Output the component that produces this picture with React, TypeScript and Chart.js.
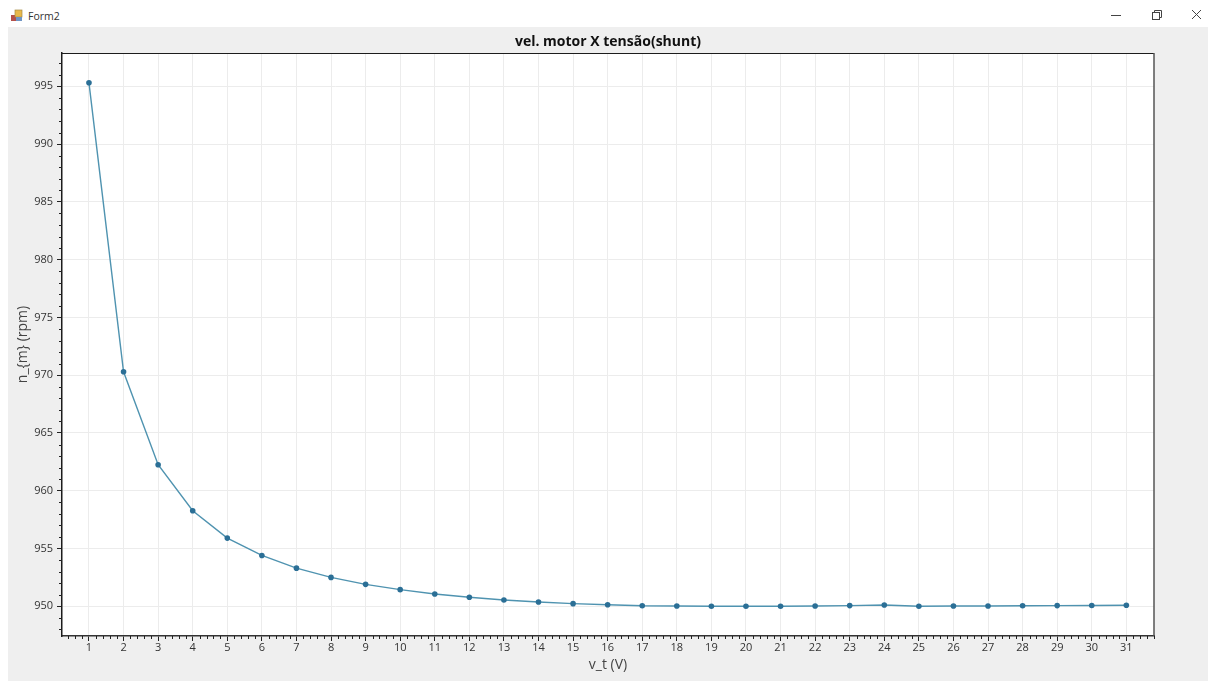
import React, { useEffect, useRef } from "react";
import { Chart, registerables } from "chart.js";

Chart.register(...registerables);

const voltage = [1, 2, 3, 4, 5, 6, 7, 8, 9, 10, 11, 12, 13, 14, 15, 16, 17, 18, 19, 20, 21, 22, 23, 24, 25, 26, 27, 28, 29, 30, 31];
const speed = [
  995.3, 970.3, 962.25, 958.27, 955.9, 954.4, 953.3, 952.5, 951.9, 951.44, 951.06,
  950.78, 950.55, 950.37, 950.23, 950.14, 950.05, 950.03, 950.0, 950.0, 950.0,
  950.03, 950.06, 950.11, 950.0, 950.03, 950.03, 950.05, 950.06, 950.07, 950.09,
];
const chartTitle = "vel. motor X tensão(shunt)";
const xTitle = "v_t (V)";
const yTitle = "n_{m} (rpm)";
const windowTitle = "Form2";
const FONT = '"Open Sans", "Noto Sans", sans-serif';

const frame = {
  id: "frame",
  beforeDraw(chart: any) {
    const { ctx, chartArea: a } = chart;
    ctx.save();
    ctx.fillStyle = "#ffffff";
    ctx.fillRect(a.left, a.top, a.right - a.left, a.bottom - a.top);
    ctx.restore();
  },
  afterDraw(chart: any) {
    const { ctx, chartArea: a, scales } = chart;
    ctx.save();
    ctx.strokeStyle = "#1c1c1c";
    ctx.lineWidth = 1;
    ctx.beginPath();
    ctx.moveTo(a.left, a.top + 0.5);
    ctx.lineTo(a.right, a.top + 0.5);
    ctx.stroke();
    ctx.strokeStyle = "#555555";
    ctx.lineWidth = 1.5;
    ctx.beginPath();
    ctx.moveTo(a.right, a.top);
    ctx.lineTo(a.right, a.bottom);
    ctx.stroke();

    ctx.strokeStyle = "#222222";
    ctx.lineWidth = 1;
    ctx.beginPath();
    for (let v = Math.ceil(scales.x.min * 5); v <= scales.x.max * 5; v++) {
      if (v % 5 === 0) continue;
      const px = Math.round(scales.x.getPixelForValue(v / 5)) + 0.5;
      ctx.moveTo(px, a.bottom);
      ctx.lineTo(px, a.bottom + 3);
    }
    for (let v = Math.ceil(scales.y.min); v <= scales.y.max; v++) {
      if (v % 5 === 0) continue;
      const py = Math.round(scales.y.getPixelForValue(v)) + 0.5;
      ctx.moveTo(a.left, py);
      ctx.lineTo(a.left - 3, py);
    }
    ctx.stroke();
    ctx.restore();
  },
};

export default function App() {
  const ref = useRef<HTMLCanvasElement>(null);

  useEffect(() => {
    const chart = new Chart(ref.current as HTMLCanvasElement, {
      type: "line",
      data: {
        datasets: [
          {
            data: voltage.map((x, i) => ({ x, y: speed[i] })),
            borderColor: "#4f93b0",
            borderWidth: 1.4,
            backgroundColor: "#2b6f96",
            pointBackgroundColor: "#2b6f96",
            pointBorderWidth: 0,
            pointRadius: 2.8,
            tension: 0,
          },
        ],
      },
      options: {
        responsive: false,
        animation: false,
        layout: { padding: { left: 0, top: 0, right: 54, bottom: 0 } },
        plugins: {
          legend: { display: false },
          tooltip: { enabled: false },
          title: {
            display: true,
            fullSize: false,
            text: chartTitle,
            color: "#111111",
            font: { family: FONT, size: 14, weight: "bold", lineHeight: 1.2 },
            padding: { top: 34, bottom: 2.2 },
          },
        },
        scales: {
          x: {
            type: "linear",
            min: 0.22,
            max: 31.8,
            afterFit(s: any) { s.height = 45; },
            ticks: {
              stepSize: 1,
              includeBounds: false,
              autoSkip: false,
              maxRotation: 0,
              color: "#333333",
              font: { family: FONT, size: 11 },
              padding: 0,
            },
            grid: { color: "#ececec", lineWidth: 1, tickColor: "#222222", tickLength: 5 },
            border: { color: "#333333", width: 1.5 },
            title: {
              display: true,
              text: xTitle,
              color: "#444444",
              font: { family: FONT, size: 14 },
              padding: { top: 0, bottom: 8 },
            },
          },
          y: {
            type: "linear",
            min: 947.43,
            max: 997.88,
            afterFit(s: any) { s.width = 62; },
            ticks: {
              stepSize: 5,
              includeBounds: false,
              autoSkip: false,
              color: "#333333",
              font: { family: FONT, size: 11 },
              padding: 4,
            },
            grid: { color: "#ececec", lineWidth: 1, tickColor: "#222222", tickLength: 5 },
            border: { color: "#1c1c1c", width: 1.5 },
            title: {
              display: true,
              text: yTitle,
              color: "#444444",
              font: { family: FONT, size: 14 },
              padding: { top: 15, bottom: 0 },
            },
          },
        },
      },
      plugins: [frame],
    } as any);
    return () => chart.destroy();
  }, []);

  return (
    <div style={{ position: "fixed", left: 0, top: 0, width: 1208, height: 681, background: "#ffffff", overflow: "hidden", fontFamily: FONT }}>
      <div style={{ position: "absolute", left: 8, top: 27, right: 0, bottom: 0, background: "#efefef" }} />
      <svg width="14" height="14" style={{ position: "absolute", left: 10, top: 9 }}>
        <rect x="1" y="6" width="6" height="6" fill="#b5504a" />
        <rect x="5" y="1" width="7" height="7" fill="#e8b94a" stroke="#a58a45" strokeWidth="0.7" />
        <rect x="6" y="8" width="6" height="4" fill="#6f95c4" />
      </svg>
      <div style={{ position: "absolute", left: 28, top: 8, fontSize: 10.5, lineHeight: "16px", color: "#333333" }}>{windowTitle}</div>
      <svg width="100" height="20" style={{ position: "absolute", left: 1108, top: 6 }}>
        <path d="M 3 9.5 H 13" stroke="#444444" strokeWidth="1" fill="none" />
        <rect x="44.5" y="6.5" width="7" height="7" stroke="#444444" fill="none" />
        <path d="M 46.5 6 V 4.5 H 53.5 V 11.5 H 52" stroke="#444444" fill="none" />
        <path d="M 84 4 L 93 13 M 93 4 L 84 13" stroke="#444444" strokeWidth="1" fill="none" />
      </svg>
      <canvas ref={ref} width={1208} height={681} style={{ position: "absolute", left: 0, top: 0 }} />
    </div>
  );
}
